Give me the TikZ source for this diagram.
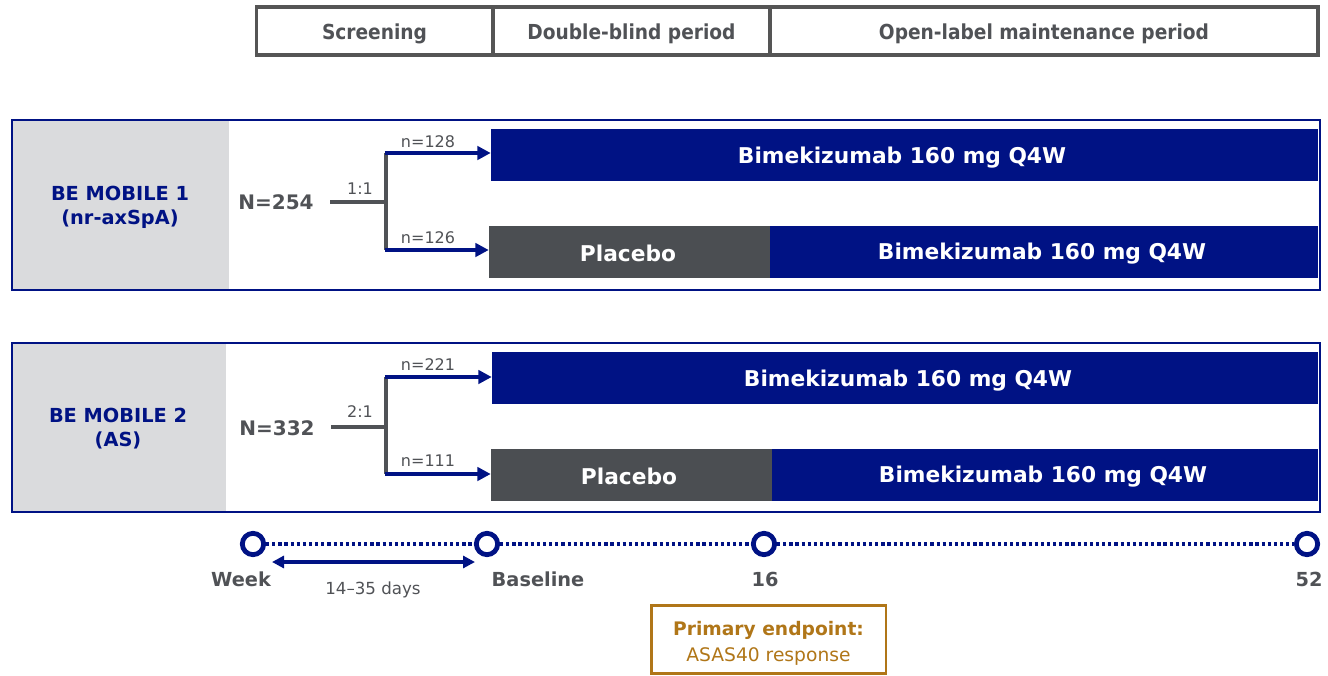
\documentclass[tikz,border=0pt]{standalone}
\usepackage{fontspec}
\setmainfont{DejaVu Sans}
\newfontfamily\condf{DejaVu Sans Condensed}
\usetikzlibrary{arrows.meta}
\definecolor{navy}{RGB}{0,18,132}
\definecolor{dgray}{RGB}{75,78,82}
\definecolor{lgray}{RGB}{218,219,221}
\definecolor{tgray}{RGB}{80,82,86}
\definecolor{brown}{RGB}{176,118,24}
\definecolor{hgray}{RGB}{85,85,85}
\begin{document}
\begin{tikzpicture}[x=0.75pt,y=-0.75pt,
  hdr/.style={draw=hgray,line width=2.4pt,minimum height=36pt,inner sep=0pt,font=\condf\bfseries\fontsize{15.5}{17}\selectfont,text=tgray},
  hlab/.style={text=tgray,font=\condf\bfseries\fontsize{15.5}{17}\selectfont},
  panel/.style={draw=navy,line width=2pt},
  bar/.style={fill=navy,inner sep=0pt,minimum height=38.5pt},
  pbar/.style={fill=dgray,inner sep=0pt,minimum height=38.5pt},
  blab/.style={text=white,font=\bfseries\fontsize{16.3}{19}\selectfont},
  study/.style={text=navy,align=center,font=\bfseries\fontsize{14.5}{18}\selectfont},
  bign/.style={text=tgray,font=\bfseries\fontsize{15}{18}\selectfont},
  small/.style={text=tgray,font=\fontsize{12}{14}\selectfont},
  tree/.style={draw=tgray,line width=3pt},
  arr/.style={draw=navy,line width=3pt,-{Triangle[length=10pt,width=10pt]}},
  tpt/.style={circle,draw=navy,fill=white,line width=3.6pt,minimum size=16pt,inner sep=0pt},
  tlab/.style={text=tgray,font=\bfseries\fontsize{14.5}{17}\selectfont},
]
\useasboundingbox (0,0) rectangle (1328,675);
% header
\node[hdr,minimum width=177pt] (h1) at (374.5,31) {};
\node[hdr,minimum width=207.75pt] (h2) at (631.5,31) {};
\node[hdr,minimum width=411pt] (h3) at (1044,31) {};
\node[hlab] (h1t) at (374.5,33.5) {Screening};
\node[hlab] (h2t) at (631.5,33.5) {Double-blind period};
\node[hlab] (h3t) at (1044,33.5) {Open-label maintenance period};

% panel 1
\fill[lgray] (12,120) rectangle (229,290);
\draw[panel] (12,120) rectangle (1320,290);
\node[study] (s1) at (120,207) {BE MOBILE 1\\(nr-axSpA)};
\node[bign] (n1) at (276,202) {N=254};
\node[bar,minimum width=620.25pt] (b11) at (904.5,155) {};
\node[pbar,minimum width=210.75pt] (p1) at (629.5,252) {};
\node[bar,minimum width=411pt] (b12) at (1044,252) {};
\node[blab] (b11t) at (902,157.5) {Bimekizumab 160 mg Q4W};
\node[blab] (p1t) at (628,253.5) {Placebo};
\node[blab] (b12t) at (1042,253.5) {Bimekizumab 160 mg Q4W};
\coordinate (j1) at (386,202);
\draw[tree] (330,202) -- (j1);
\draw[tree] (386,153) -- (386,250);
\draw[arr] (384.9,153) -- (b11.west |- 0,153);
\draw[arr] (384.9,250) -- (p1.west |- 0,250);
\node[small] (r1) at (360,189) {1:1};
\node[small] (a1) at (428,142) {n=128};
\node[small] (c1) at (428,238) {n=126};

% panel 2
\fill[lgray] (12,343) rectangle (226,512);
\draw[panel] (12,343) rectangle (1320,512);
\node[study] (s2) at (118,429) {BE MOBILE 2\\(AS)};
\node[bign] (n2) at (277,428) {N=332};
\node[bar,minimum width=619.5pt] (b21) at (905,378) {};
\node[pbar,minimum width=210.75pt] (p2) at (631.5,475) {};
\node[bar,minimum width=409.5pt] (b22) at (1045,475) {};
\node[blab] (b21t) at (908,380.5) {Bimekizumab 160 mg Q4W};
\node[blab] (p2t) at (629,476.5) {Placebo};
\node[blab] (b22t) at (1043,476.5) {Bimekizumab 160 mg Q4W};
\coordinate (j2) at (386,427);
\draw[tree] (331,427) -- (j2);
\draw[tree] (386,377) -- (386,474);
\draw[arr] (384.9,377) -- (b21.west |- 0,377);
\draw[arr] (384.9,474) -- (p2.west |- 0,474);
\node[small] (r2) at (360,412) {2:1};
\node[small] (a2) at (428,365) {n=221};
\node[small] (c2) at (428,461) {n=111};

% timeline
\node[tpt] (t0) at (253,544) {};
\node[tpt] (t1) at (487,544) {};
\node[tpt] (t2) at (764,544) {};
\node[tpt] (t3) at (1307,544) {};
\draw[navy,line width=2.8pt,dash pattern=on 2.4pt off 2.2pt] (t0) -- (t1);
\draw[navy,line width=2.8pt,dash pattern=on 2.4pt off 2.2pt] (t1) -- (t2);
\draw[navy,line width=2.8pt,dash pattern=on 2.4pt off 2.2pt] (t2) -- (t3);
\node[tlab] (w) at (241,579) {Week};
\node[tlab] (bl) at (538,579) {Baseline};
\node[tlab] (w16) at (765,579) {16};
\node[tlab] (w52) at (1309,579) {52};
\coordinate (d0) at (272,562);
\coordinate (d1) at (475,562);
\draw[navy,line width=2.6pt,{Triangle[length=9pt,width=9pt]}-{Triangle[length=9pt,width=9pt]}] (d0) -- (d1);
\node[small,font=\fontsize{12.5}{14}\selectfont] (dd) at (373,590) {14–35 days};
\node[draw=brown,line width=2pt,minimum width=176pt,minimum height=51pt,inner sep=0pt] (ep) at (768.5,639.5) {};
\node[align=center,text=brown,font=\fontsize{14}{19.5}\selectfont] (ept) at (768.5,643.5) {\textbf{Primary endpoint:}\\ASAS40 response};
\end{tikzpicture}
\end{document}
